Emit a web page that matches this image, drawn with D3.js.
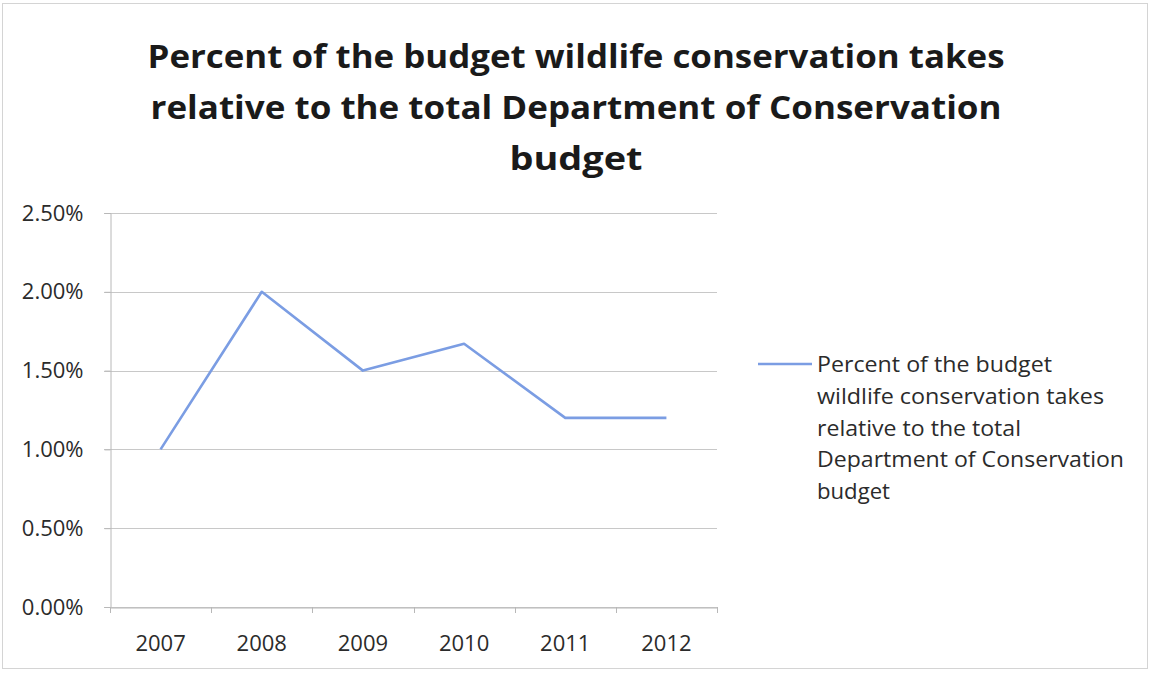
<!DOCTYPE html>
<html>
<head>
<meta charset="utf-8">
<script src="https://cdn.jsdelivr.net/npm/d3@7"></script>
<style>
  html, body { margin: 0; padding: 0; background: #ffffff; }
  svg { display: block; font-family: "Open Sans", Lato, sans-serif; }
</style>
</head>
<body>
<svg id="chart" width="1151" height="673"></svg>
<script>
// Data
const years = ["2007", "2008", "2009", "2010", "2011", "2012"];
const percentValues = [0.0100, 0.0200, 0.0150, 0.0167, 0.0120, 0.0120];
const yTicks = [0, 0.005, 0.010, 0.015, 0.020, 0.025];
const titleLines = [
  "Percent of the budget wildlife conservation takes",
  "relative to the total Department of Conservation",
  "budget"
];
const legendLines = [
  "Percent of the budget",
  "wildlife conservation takes",
  "relative to the total",
  "Department of Conservation",
  "budget"
];

const svg = d3.select("#chart");
const W = 1151, H = 673;
const FONT = "'Open Sans', Lato, sans-serif";

// Widen a text run to a target width (the chart font is a little wider than Open Sans)
function fitWidth(sel, width) {
  sel.attr("textLength", width).attr("lengthAdjust", "spacingAndGlyphs");
}

// Chart frame
svg.append("rect")
  .attr("x", 2.5).attr("y", 3.5)
  .attr("width", W - 6).attr("height", H - 8)
  .attr("fill", "#ffffff")
  .attr("stroke", "#d4d4d4").attr("stroke-width", 1);

// Title
const titleWidths = [857, 851, 133];
titleLines.forEach((t, i) => {
  const tt = svg.append("text")
    .attr("text-anchor", "middle")
    .attr("font-weight", "bold")
    .attr("font-size", 33)
    .attr("fill", "#1a1a1a")
    .attr("x", 576)
    .attr("y", 68 + i * 51)
    .text(t);
  fitWidth(tt, titleWidths[i]);
});

// Plot area
const plot = { left: 110, right: 717, top: 213, bottom: 607 };

const x = d3.scaleBand()
  .domain(years)
  .range([plot.left, plot.right]);

const y = d3.scaleLinear()
  .domain([0, 0.025])
  .range([plot.bottom, plot.top]);

// Horizontal gridlines
svg.append("g")
  .selectAll("line")
  .data(yTicks)
  .join("line")
  .attr("x1", plot.left - 6)
  .attr("x2", plot.right)
  .attr("y1", d => Math.round(y(d)) + 0.5)
  .attr("y2", d => Math.round(y(d)) + 0.5)
  .attr("stroke", "#c8c8c8")
  .attr("stroke-width", 1);

// Y axis
const yAxis = svg.append("g")
  .attr("transform", `translate(${plot.left + 0.5},0)`)
  .call(d3.axisLeft(y).tickValues(yTicks).tickFormat(d3.format(".2%")).tickSize(6).tickPadding(21));
yAxis.select(".domain").attr("stroke", "#b8b8b8");
yAxis.selectAll(".tick line").attr("stroke", "#b8b8b8");
yAxis.selectAll(".tick text")
  .attr("font-size", 22)
  .attr("font-family", FONT)
  .attr("fill", "#2b2b2b");

// X axis with ticks at category boundaries
const xAxis = svg.append("g")
  .attr("transform", `translate(0,${plot.bottom + 0.5})`)
  .call(d3.axisBottom(x).tickSize(0).tickPadding(28));
xAxis.select(".domain").attr("stroke", "#b8b8b8");
xAxis.selectAll(".tick text")
  .attr("font-size", 22)
  .attr("font-family", FONT)
  .attr("fill", "#2b2b2b");

const boundaries = years.map(d => x(d)).concat([x(years[years.length - 1]) + x.bandwidth()]);
svg.append("g")
  .selectAll("line")
  .data(boundaries)
  .join("line")
  .attr("x1", d => Math.round(d) + 0.5)
  .attr("x2", d => Math.round(d) + 0.5)
  .attr("y1", plot.bottom)
  .attr("y2", plot.bottom + 6)
  .attr("stroke", "#b8b8b8");

// Series line
const lineColor = "#7b9de3";
const line = d3.line()
  .x((d, i) => x(years[i]) + x.bandwidth() / 2)
  .y(d => y(d));

svg.append("path")
  .datum(percentValues)
  .attr("d", line)
  .attr("fill", "none")
  .attr("stroke", lineColor)
  .attr("stroke-width", 2.6)
  .attr("stroke-linejoin", "round");

// Legend
svg.append("line")
  .attr("x1", 758).attr("x2", 812)
  .attr("y1", 364).attr("y2", 364)
  .attr("stroke", lineColor)
  .attr("stroke-width", 2.6);

const legendWidths = [235, 287, 204, 307, 73];
legendLines.forEach((t, i) => {
  const lt = svg.append("text")
    .attr("font-size", 21)
    .attr("fill", "#2b2b2b")
    .attr("x", 817)
    .attr("y", 372 + i * 31.75)
    .text(t);
  fitWidth(lt, legendWidths[i]);
});
</script>
</body>
</html>
